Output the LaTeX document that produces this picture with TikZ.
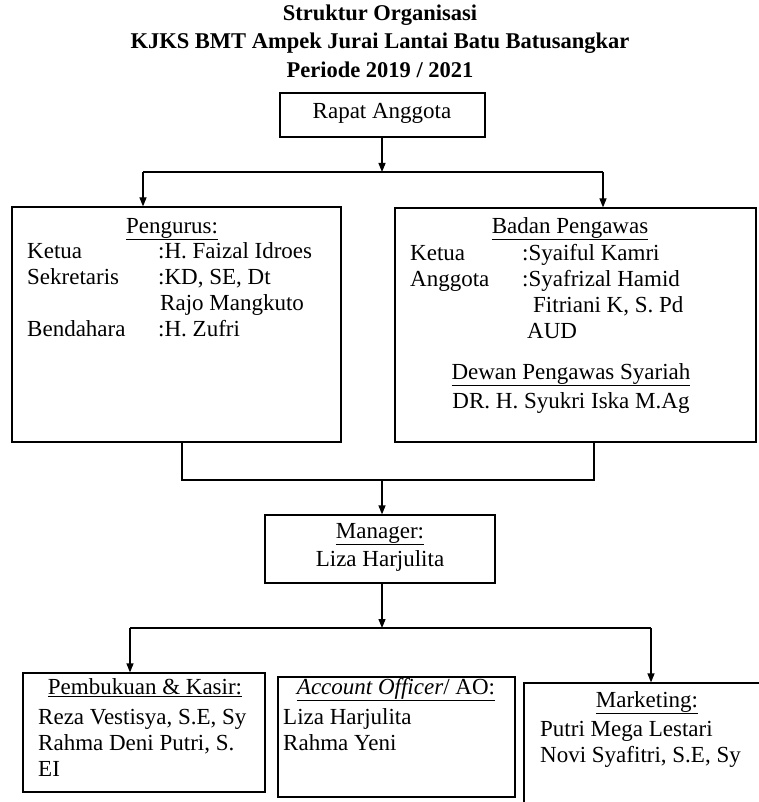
\documentclass[tikz,border=0pt]{standalone}
\usepackage{fontspec}
\setmainfont{Liberation Serif}
\usetikzlibrary{arrows.meta,positioning}

\begin{document}
\begin{tikzpicture}[x=1pt,y=-1pt,
  box/.style={draw,line width=1.2pt,inner sep=0pt},
  txt/.style={font=\fontsize{23}{26}\selectfont,inner sep=0pt,anchor=mid west},
  ctxt/.style={font=\fontsize{23}{26}\selectfont,inner sep=0pt,anchor=mid},
  head/.style={font=\fontsize{22.5}{28}\selectfont\bfseries,inner sep=0pt,anchor=mid},
  wire/.style={line width=1.2pt},
  arr/.style={-{Triangle[length=9pt,width=7pt]},line width=1.2pt}]

\useasboundingbox (0,0) rectangle (758,802);

% ---- heading -----------------------------------------------------------
\node[head] (hd1) at (380,18) {Struktur Organisasi};
\node[head] (hd2) at (380,46) {KJKS BMT Ampek Jurai Lantai Batu Batusangkar};
\node[head] (hd3) at (380,75) {Periode 2019 / 2021};

% ---- boxes -------------------------------------------------------------
\node[box,minimum width=205,minimum height=44]  (rapat)    at (382.5,115)  {};
\node[box,minimum width=329,minimum height=235] (pengurus) at (176.5,324.5) {};
\node[box,minimum width=361,minimum height=234] (pengawas) at (575.5,325)  {};
\node[box,minimum width=230,minimum height=68]  (manager)  at (380,549)    {};
\node[box,minimum width=242,minimum height=119] (kasir)    at (144,732.5)  {};
\node[box,minimum width=237,minimum height=120] (ao)       at (396.5,737)  {};
\node[box,minimum width=248,minimum height=137] (mkt)      at (648,751.5)  {};

% ---- texts -------------------------------------------------------------
\node[ctxt] (ra) at (382,116) {Rapat Anggota};

\node[ctxt] (pg0) at (172,231) {\underline{Pengurus:}};
\node[txt]  (pg1) at (27,256)  {Ketua};
\node[txt]  (pg2) at (158,256) {:H. Faizal Idroes};
\node[txt]  (pg3) at (27,282)  {Sekretaris};
\node[txt]  (pg4) at (158,282) {:KD, SE, Dt};
\node[txt]  (pg5) at (160,308) {Rajo Mangkuto};
\node[txt]  (pg6) at (27,334)  {Bendahara};
\node[txt]  (pg7) at (158,334) {:H. Zufri};

\node[ctxt] (bp0) at (570,231) {\underline{Badan Pengawas}};
\node[txt]  (bp1) at (410,258) {Ketua};
\node[txt]  (bp2) at (522,258) {:Syaiful Kamri};
\node[txt]  (bp3) at (410,284) {Anggota};
\node[txt]  (bp4) at (522,284) {:Syafrizal Hamid};
\node[txt]  (bp5) at (533,310) {Fitriani K, S. Pd};
\node[txt]  (bp6) at (527,336) {AUD};
\node[ctxt] (bp7) at (571,377) {\underline{Dewan Pengawas Syariah}};
\node[ctxt] (bp8) at (571,406) {DR. H. Syukri Iska M.Ag};

\node[ctxt] (mg0) at (380,536) {\underline{Manager:}};
\node[ctxt] (mg1) at (380,564) {Liza Harjulita};

\node[ctxt] (ks0) at (145,692) {\underline{Pembukuan \& Kasir:}};
\node[txt]  (ks1) at (38,722)  {Reza Vestisya, S.E, Sy};
\node[txt]  (ks2) at (38,748)  {Rahma Deni Putri, S.};
\node[txt]  (ks3) at (38,774)  {EI};

\node[ctxt] (ao0) at (396,692) {\underline{\textit{Account Officer}/ AO:}};
\node[txt]  (ao1) at (283,722) {Liza Harjulita};
\node[txt]  (ao2) at (283,748) {Rahma Yeni};

\node[ctxt] (mk0) at (647,705) {\underline{Marketing:}};
\node[txt]  (mk1) at (540,734) {Putri Mega Lestari};
\node[txt]  (mk2) at (540,760) {Novi Syafitri, S.E, Sy};

% ---- connectors --------------------------------------------------------
\coordinate (j1)  at (382,172);
\coordinate (j1l) at (143,172);
\coordinate (j1r) at (603,172);
\draw[arr]  (rapat.south -| j1) -- (j1);
\draw[wire] (j1l) -- (j1r);
\draw[arr]  (j1l) -- (j1l |- pengurus.north);
\draw[arr]  (j1r) -- (j1r |- pengawas.north);

\coordinate (j2)  at (382,480);
\coordinate (j2l) at (182,480);
\coordinate (j2r) at (594,480);
\draw[wire] (j2l |- pengurus.south) -- (j2l) -- (j2r) -- (j2r |- pengawas.south);
\draw[arr]  (j2) -- (j2 |- manager.north);

\coordinate (j3)  at (382,628);
\coordinate (j3l) at (130,628);
\coordinate (j3r) at (651,628);
\draw[arr]  (manager.south -| j3) -- (j3);
\draw[wire] (j3l) -- (j3r);
\draw[arr]  (j3l) -- (j3l |- kasir.north);
\draw[arr]  (j3r) -- (j3r |- mkt.north);
\end{tikzpicture}
\end{document}
